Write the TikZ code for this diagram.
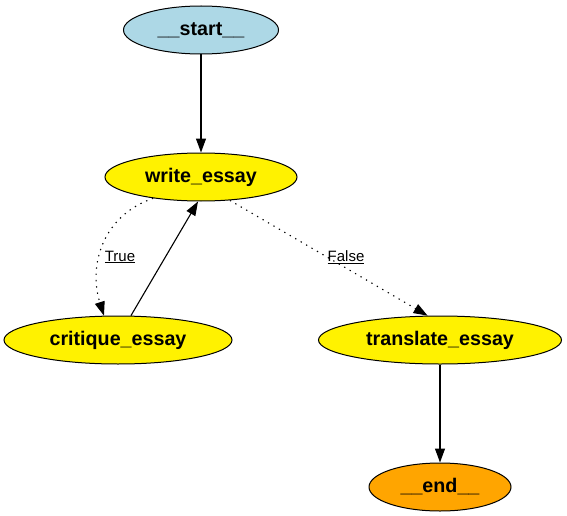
\documentclass[tikz,border=0pt]{standalone}
\usepackage{fontspec}
\newfontfamily\graphfont{Liberation Sans}
\usetikzlibrary{shapes.geometric,arrows.meta}
\definecolor{startblue}{RGB}{173,216,230}
\definecolor{endorange}{RGB}{255,165,0}
\begin{document}
\begin{tikzpicture}[x=1pt,y=-1pt]
    % Define the styles for the states and edges
    \tikzstyle{state}=[ellipse, draw=black, line width=1pt, fill=yellow, inner sep=0pt, minimum height=48pt, font=\graphfont\bfseries\fontsize{19.7}{23}\selectfont]
    \tikzstyle{arrow}=[line width=1.1pt,-{Triangle[length=14pt,width=10pt]}]
    \tikzstyle{cond}=[arrow, dash pattern=on 1.3pt off 5pt]
    \tikzstyle{cond label}=[inner sep=1pt, font=\graphfont\fontsize{15}{17}\selectfont]

    \useasboundingbox (0,0) rectangle (567,516);

    % Draw the states
    \node[state, fill=startblue, minimum width=155pt] (start) at (201,30) {\_\_start\_\_};
    \node[state, minimum width=192pt] (write_essay) at (201,177) {write\_essay};
    \node[state, minimum width=228pt] (critique_essay) at (118,340) {critique\_essay};
    \node[state, minimum width=243pt] (translate_essay) at (440,340) {translate\_essay};
    \node[state, fill=endorange, minimum width=142pt] (end) at (440,487) {\_\_end\_\_};

    % Draw the edges between the states
    \draw[arrow] (start) -- (write_essay);
    \draw[cond] (write_essay.204) .. controls +(-50,17) and +(-16,-51) .. (critique_essay.120);
    \draw[arrow] (critique_essay.62) -- (write_essay.263);
    \draw[cond] (write_essay.321) -- (translate_essay.117);
    \draw[arrow] (translate_essay) -- (end);

    % Draw the edge labels
    \node[cond label] (true_label) at (120,257) {\underline{True}};
    \node[cond label] (false_label) at (346,257) {\underline{False}};
\end{tikzpicture}
\end{document}
